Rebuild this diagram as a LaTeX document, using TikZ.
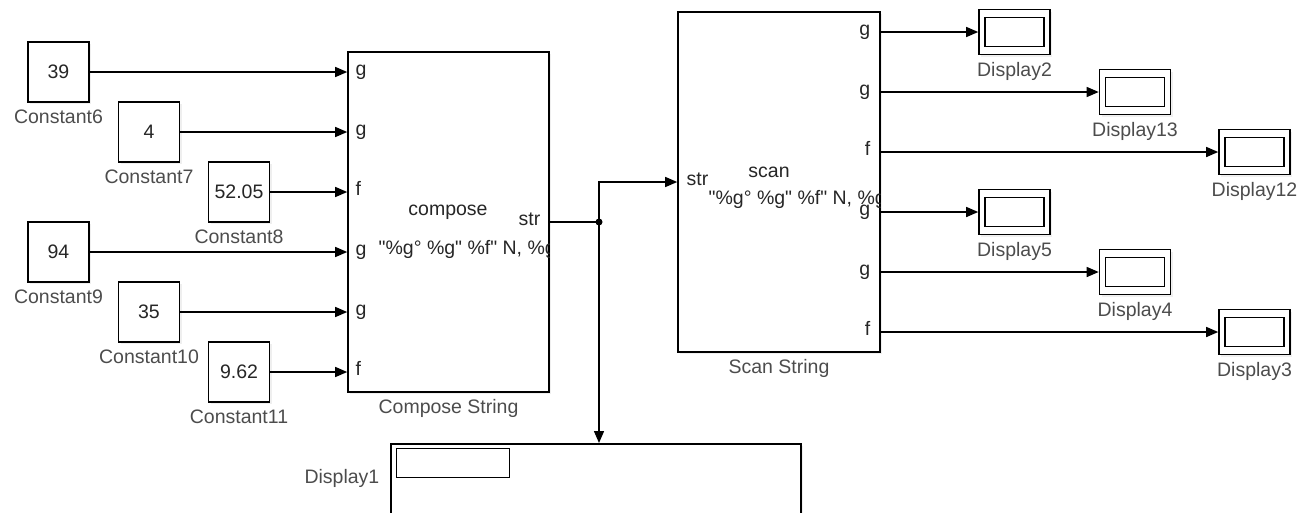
\documentclass[tikz,border=0pt]{standalone}
\usepackage{fontspec}
\setmainfont{Liberation Sans}[Ligatures=TeXOff]
\usetikzlibrary{arrows.meta,positioning,shadows}

\begin{document}
\begin{tikzpicture}[x=1pt, y=-1pt, line width=1.4pt, line join=miter,
  font=\fontsize{19.5}{23}\selectfont, text=black!85,
  blk/.style={draw, fill=white, line width=1.6pt,
    drop shadow={shadow xshift=2pt, shadow yshift=-2pt, fill=black!12}},
  constbox/.style={blk, minimum width=61pt, minimum height=60pt, inner sep=0pt},
  dispbox/.style={blk, minimum width=71pt, minimum height=45pt, inner sep=0pt},
  dispin/.style={draw, line width=1.4pt, minimum width=59pt, minimum height=29pt, inner sep=0pt},
  lbl/.style={text=black!70, inner sep=1pt},
  port/.style={inner sep=0pt, text height=1.5ex, text depth=.4ex},
  sig/.style={-{Triangle[length=12pt, width=10pt]}}]
  \useasboundingbox (0,0) rectangle (1305,512);
  \clip (0,0) rectangle (1305,512);
  % Constant sources.
  \foreach \n/\v/\x/\y in {6/39/58.5/72, 7/4/149/132, 8/52.05/239/192,
                           9/94/58.5/252, 10/35/149/312, 11/9.62/239/372} {
    \node[constbox] (c\n) at (\x,\y) {\v};
    \node[lbl, below=5pt of c\n] (c\n lbl) {Constant\n};
  }
  % Compose String block.
  \node[blk, minimum width=201pt, minimum height=340pt] (comp) at (448.5,222) {};
  \node[lbl, below=5pt of comp] (complbl) {Compose String};
  \foreach \y/\p in {73/g, 133/g, 193/f, 253/g, 313/g, 373/f}
    \node[port, anchor=west] at (355,\y) {\p};
  \node[port, anchor=east] (compstr) at (541,223) {str};
  \node (comptxt) at (448,212) {compose};
  \begin{scope}
    \clip (comp.south west) rectangle (comp.north east);
    \node[anchor=west, inner sep=0pt] (compfmt) at (378,249) {"\%g° \%g" \%f" N, \%g};
  \end{scope}
  \foreach \n in {6,...,11}
    \draw[sig] (c\n.east) -- (c\n.east -| comp.west);
  % Scan String block.
  \node[blk, minimum width=202pt, minimum height=340pt] (scan) at (779,182) {};
  \node[lbl, below=5pt of scan] (scanlbl) {Scan String};
  \node[port, anchor=west] (scanstr) at (686,183) {str};
  \node (scantxt) at (769,172) {scan};
  \begin{scope}
    \clip (scan.south west) rectangle (scan.north east);
    \node[anchor=west, inner sep=0pt] (scanfmt) at (708,199) {"\%g° \%g" \%f" N, \%g};
  \end{scope}
  \foreach \y/\p in {33/g, 93/g, 153/f, 213/g, 273/g, 333/f}
    \node[port, anchor=east] at (871,\y) {\p};
  % Displays on the outputs.
  \foreach \n/\x/\y in {2/1014.5/32, 13/1135/92, 12/1254.5/152,
                        5/1014.5/212, 4/1135/272, 3/1254.5/332} {
    \node[dispbox] (d\n) at (\x,\y) {};
    \node[dispin] at (d\n) {};
    \node[lbl, below=5pt of d\n] (d\n lbl) {Display\n};
    \draw[sig] (scan.east |- d\n.west) -- (d\n.west);
  }
  % Wide display under the junction.
  \node[blk, minimum width=410pt, minimum height=100pt, anchor=north west] (disp1) at (390,443) {};
  \node[dispin, minimum width=113pt, anchor=north west] (disp1in)
    at ([xshift=6pt, yshift=-5pt]disp1.north west) {};
  \node[lbl, anchor=east] (disp1lbl) at (381,478) {Display1};
  % Branch of the str signal.
  \coordinate (jn) at (599,222);
  \draw (comp.east) -- (jn);
  \fill (jn) circle (3.5pt);
  \draw[sig] (jn) |- (scan.west);
  \draw[sig] (jn) -- (jn |- disp1.north);
\end{tikzpicture}
\end{document}
